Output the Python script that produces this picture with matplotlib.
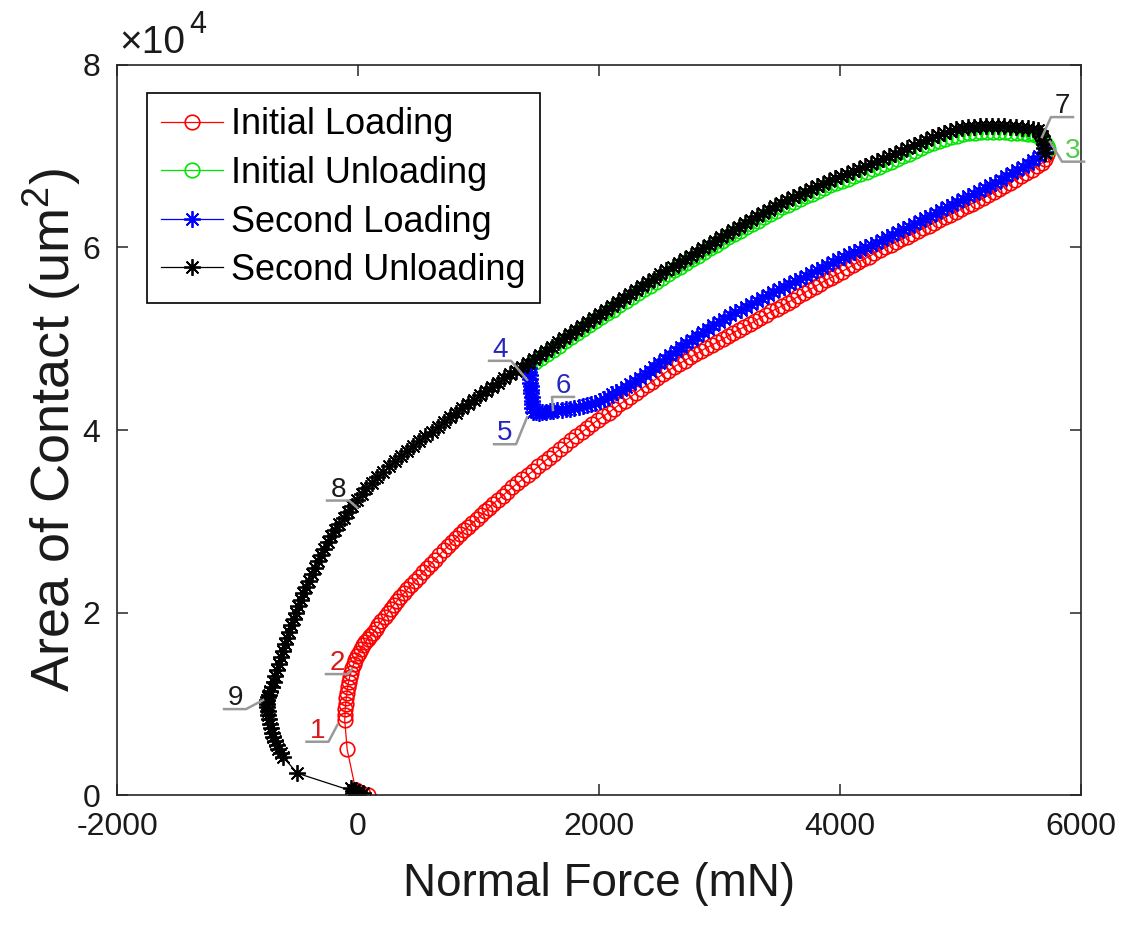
import matplotlib
matplotlib.use('Agg')
import matplotlib.pyplot as plt
from matplotlib.lines import Line2D
from matplotlib.transforms import IdentityTransform

plt.rcParams['font.family'] = ['Liberation Sans', 'DejaVu Sans']
plt.rcParams['mathtext.default'] = 'regular'

# ---------------- data (Normal Force mN, Area um^2) ----------------
init_loading = [
    (80, 0), (40, 100), (10, 300), (-20, 600), (-90, 5000),
    (-110, 8200), (-108, 8800), (-106, 9400), (-102, 10000), (-98, 10600), (-92, 11200),
    (-86, 11800), (-78, 12350), (-70, 12900), (-59, 13400), (-48, 13900), (-35, 14350),
    (-22, 14800), (-7, 15200), (8, 15600), (25, 16000), (42, 16400), (61, 16750),
    (80, 17100), (102, 17450), (124, 17750), (147, 18200), (170, 18600), (195, 19050),
    (220, 19500), (246, 19950), (272, 20400), (298, 20850), (324, 21300), (352, 21700),
    (380, 22100), (410, 22550), (440, 23000), (472, 23450), (505, 23900), (539, 24400),
    (573, 24900), (606, 25350), (640, 25800), (675, 26300), (710, 26800), (745, 27250),
    (780, 27700), (813, 28150), (846, 28600), (880, 29000), (915, 29400), (950, 29800),
    (985, 30200), (1020, 30650), (1055, 31100), (1088, 31500), (1120, 31900), (1160, 32350),
    (1200, 32800), (1240, 33250), (1280, 33700), (1322, 34150), (1365, 34600), (1408, 35050),
    (1452, 35500), (1496, 36000), (1540, 36500), (1585, 36950), (1630, 37400), (1675, 37900),
    (1720, 38400), (1765, 38850), (1810, 39300), (1855, 39750), (1900, 40200), (1945, 40650),
    (1990, 41100), (2035, 41500), (2080, 41900), (2125, 42350), (2170, 42800), (2215, 43200),
    (2260, 43600), (2305, 44050), (2350, 44500), (2395, 44900), (2440, 45300), (2485, 45700),
    (2530, 46100), (2575, 46500), (2620, 46900), (2665, 47250), (2710, 47600), (2755, 47950),
    (2800, 48300), (2845, 48650), (2890, 49000), (2935, 49300), (2980, 49600), (3025, 49950),
    (3070, 50300), (3115, 50650), (3160, 51000), (3205, 51300), (3250, 51600), (3295, 51950),
    (3340, 52300), (3385, 52650), (3430, 53000), (3475, 53300), (3520, 53600), (3565, 53950),
    (3610, 54300), (3655, 54650), (3700, 55000), (3745, 55350), (3790, 55700), (3835, 56050),
    (3880, 56400), (3925, 56700), (3970, 57000), (4015, 57350), (4060, 57700), (4105, 58050),
    (4150, 58400), (4195, 58700), (4240, 59000), (4285, 59350), (4330, 59700), (4375, 60000),
    (4420, 60300), (4465, 60600), (4510, 60900), (4555, 61200), (4600, 61500), (4645, 61800),
    (4690, 62100), (4735, 62400), (4780, 62700), (4825, 63000), (4870, 63300), (4915, 63600),
    (4960, 63900), (5005, 64200), (5050, 64500), (5095, 64800), (5140, 65100), (5185, 65400),
    (5230, 65700), (5275, 66050), (5320, 66400), (5365, 66750), (5410, 67100), (5455, 67450),
    (5500, 67800), (5545, 68150), (5590, 68500), (5635, 68900), (5680, 69300), (5700, 69750),
    (5720, 70200)]

init_unloading = [
    (5730, 70800), (5715, 71150), (5700, 71500), (5680, 71800), (5660, 72100), (5630, 72300),
    (5600, 72400), (5560, 72450), (5520, 72500), (5470, 72550), (5420, 72600), (5370, 72650),
    (5320, 72700), (5270, 72700), (5220, 72700), (5170, 72650), (5120, 72600), (5070, 72500),
    (5020, 72400), (4970, 72250), (4920, 72100), (4870, 71900), (4820, 71700), (4770, 71450),
    (4720, 71200), (4670, 70900), (4620, 70600), (4570, 70300), (4520, 70000), (4470, 69700),
    (4420, 69400), (4370, 69100), (4320, 68800), (4270, 68550), (4220, 68300), (4170, 68050),
    (4120, 67800), (4070, 67550), (4020, 67300), (3970, 67050), (3920, 66800), (3870, 66500),
    (3820, 66200), (3770, 65900), (3720, 65600), (3670, 65300), (3620, 65000), (3570, 64700),
    (3520, 64400), (3470, 64050), (3420, 63700), (3370, 63300), (3320, 62900), (3270, 62550),
    (3220, 62200), (3170, 61850), (3120, 61500), (3070, 61100), (3020, 60700), (2970, 60300),
    (2920, 59900), (2870, 59500), (2820, 59100), (2770, 58700), (2720, 58300), (2670, 57900),
    (2620, 57500), (2570, 57100), (2520, 56700), (2470, 56250), (2420, 55800), (2370, 55400),
    (2320, 55000), (2270, 54550), (2220, 54100), (2170, 53650), (2120, 53200), (2070, 52800),
    (2020, 52400), (1970, 51950), (1920, 51500), (1870, 51050), (1820, 50600), (1770, 50150),
    (1720, 49700), (1670, 49250), (1620, 48800), (1570, 48350), (1520, 47900), (1470, 47450),
    (1420, 47000)]

second_loading = [
    (1420, 46800), (1423, 46400), (1425, 46000), (1428, 45600), (1430, 45200), (1433, 44800),
    (1435, 44400), (1438, 44000), (1440, 43600), (1443, 43200), (1445, 42800), (1448, 42400),
    (1450, 42000), (1475, 41950), (1500, 41900), (1530, 41950), (1560, 42000), (1590, 42050),
    (1620, 42100), (1655, 42150), (1690, 42200), (1725, 42250), (1760, 42300), (1795, 42400),
    (1830, 42500), (1865, 42600), (1900, 42700), (1935, 42850), (1970, 43000), (2005, 43200),
    (2040, 43400), (2075, 43650), (2110, 43900), (2145, 44150), (2180, 44400), (2220, 44700),
    (2260, 45000), (2300, 45350), (2340, 45700), (2380, 46100), (2420, 46500), (2460, 46900),
    (2500, 47300), (2545, 47750), (2590, 48200), (2635, 48650), (2680, 49100), (2725, 49500),
    (2770, 49900), (2815, 50300), (2860, 50700), (2905, 51100), (2950, 51500), (2995, 51850),
    (3040, 52200), (3085, 52550), (3130, 52900), (3175, 53200), (3220, 53500), (3265, 53800),
    (3310, 54100), (3355, 54450), (3400, 54800), (3445, 55100), (3490, 55400), (3535, 55700),
    (3580, 56000), (3625, 56300), (3670, 56600), (3715, 56900), (3760, 57200), (3805, 57500),
    (3850, 57800), (3895, 58100), (3940, 58400), (3985, 58700), (4030, 59000), (4075, 59250),
    (4120, 59500), (4165, 59750), (4210, 60000), (4255, 60250), (4300, 60500), (4345, 60800),
    (4390, 61100), (4435, 61400), (4480, 61700), (4525, 62000), (4570, 62300), (4615, 62600),
    (4660, 62900), (4705, 63200), (4750, 63500), (4795, 63800), (4840, 64100), (4885, 64400),
    (4930, 64700), (4975, 65000), (5020, 65300), (5065, 65600), (5110, 65900), (5155, 66200),
    (5200, 66500), (5245, 66800), (5290, 67100), (5335, 67450), (5380, 67800), (5425, 68150),
    (5470, 68500), (5515, 68850), (5560, 69200), (5605, 69600), (5650, 70000), (5700, 70500)]

second_unloading = [
    (5700, 70400), (5695, 70850), (5690, 71300), (5683, 71750), (5675, 72200), (5660, 72550),
    (5640, 72900), (5600, 73000), (5560, 73100), (5510, 73150), (5460, 73200), (5410, 73250),
    (5360, 73300), (5310, 73300), (5260, 73300), (5210, 73300), (5160, 73300), (5110, 73250),
    (5060, 73200), (5010, 73100), (4960, 73000), (4910, 72800), (4860, 72600), (4810, 72350),
    (4760, 72100), (4710, 71800), (4660, 71500), (4610, 71200), (4560, 70900), (4510, 70600),
    (4460, 70300), (4410, 70000), (4360, 69700), (4310, 69450), (4260, 69200), (4210, 68900),
    (4160, 68600), (4110, 68350), (4060, 68100), (4010, 67850), (3960, 67600), (3910, 67300),
    (3860, 67000), (3810, 66700), (3760, 66400), (3710, 66100), (3660, 65800), (3610, 65500),
    (3560, 65200), (3510, 64850), (3460, 64500), (3410, 64150), (3360, 63800), (3310, 63400),
    (3260, 63000), (3210, 62650), (3160, 62300), (3110, 61900), (3060, 61500), (3010, 61100),
    (2960, 60700), (2910, 60300), (2860, 59900), (2810, 59500), (2760, 59100), (2710, 58700),
    (2660, 58300), (2610, 57900), (2560, 57500), (2510, 57050), (2460, 56600), (2410, 56200),
    (2360, 55800), (2310, 55350), (2260, 54900), (2210, 54450), (2160, 54000), (2110, 53600),
    (2060, 53200), (2010, 52750), (1960, 52300), (1910, 51850), (1860, 51400), (1810, 50950),
    (1760, 50500), (1710, 50050), (1660, 49600), (1610, 49150), (1560, 48700), (1510, 48250),
    (1460, 47800), (1410, 47350), (1360, 46900), (1310, 46500), (1260, 46100), (1210, 45650),
    (1160, 45200), (1110, 44750), (1060, 44300), (1010, 43800), (960, 43300), (910, 42850),
    (860, 42400), (810, 41900), (760, 41400), (710, 40850), (660, 40300), (610, 39800),
    (560, 39300), (510, 38750), (460, 38200), (410, 37650), (360, 37100), (310, 36550),
    (260, 36000), (210, 35400), (160, 34800), (115, 34200), (70, 33600), (30, 32950),
    (-10, 32300), (-48, 31650), (-85, 31000), (-120, 30350), (-155, 29700), (-188, 29050),
    (-220, 28400), (-250, 27700), (-280, 27000), (-308, 26300), (-335, 25600), (-360, 24900),
    (-385, 24200), (-408, 23500), (-430, 22800), (-453, 22100), (-475, 21400), (-495, 20700),
    (-515, 20000), (-535, 19300), (-555, 18600), (-573, 17900), (-590, 17200), (-608, 16500),
    (-625, 15800), (-640, 15100), (-655, 14400), (-670, 13700), (-685, 13000), (-700, 12400),
    (-715, 11800), (-728, 11400), (-740, 11000), (-748, 10700), (-755, 10400), (-756, 10000),
    (-755, 9600), (-750, 9200), (-745, 8800), (-738, 8300), (-730, 7800), (-722, 7300),
    (-714, 6800), (-702, 6350), (-690, 5900), (-675, 5450), (-660, 5000), (-641, 4600),
    (-622, 4200), (-506, 2400), (-40, 400), (-20, 200), (0, 0), (-30, 600),
    (10, 300), (0, 100), (-60, 800), (40, 200)]

series_names = ['Initial Loading', 'Initial Unloading', 'Second Loading', 'Second Unloading']

# numbered points (data tips)
point_labels = ['1', '2', '3', '4', '5', '6', '7', '8', '9']
point_x = [-170, -50, 5743, 1403, 1403, 1618, 5676, -8, -788]
point_y = [7700, 13800, 71600, 45500, 41400, 42200, 72100, 31500, 10400]

x_ticks = [-2000, 0, 2000, 4000, 6000]
y_ticks = [0, 20000, 40000, 60000, 80000]
y_tick_labels = ['0', '2', '4', '6', '8']

# ---------------- figure ----------------
W, H = 1138, 930
fig = plt.figure(figsize=(W / 100, H / 100), dpi=100)
ax = fig.add_axes([117 / W, (H - 795) / H, 964 / W, 730 / H])

RED = (1, 0, 0)
GREEN = (0, 0.9, 0)
BLUE = (0, 0, 1)
BLACK = (0, 0, 0)
ast = (8, 2, 0)
TXT = (0.1, 0.1, 0.1)

def xy(pairs):
    return [p[0] for p in pairs], [p[1] for p in pairs]

x, y = xy(init_loading)
ax.plot(x, y, color=RED, marker='o', mfc='none', ms=10.5, mew=1.2, lw=0.9,
        label=series_names[0])
x, y = xy(init_unloading)
ax.plot(x, y, color=GREEN, marker='o', mfc='none', ms=10.5, mew=1.2, lw=0.9,
        label=series_names[1])
x, y = xy(second_loading)
ax.plot(x, y, color=BLUE, marker=ast, ms=12, mew=1.3, lw=0.9, label=series_names[2])
x, y = xy(second_unloading)
ax.plot(x, y, color=BLACK, marker=ast, ms=12, mew=1.3, lw=0.9, label=series_names[3])

ax.set_xlim(-2000, 6000)
ax.set_ylim(0, 80000)
ax.set_xticks(x_ticks)
ax.set_xticklabels([str(v) for v in x_ticks])
ax.set_yticks(y_ticks)
ax.set_yticklabels(y_tick_labels)
spine_c = (0.15, 0.15, 0.15)
for s in ax.spines.values():
    s.set_color(spine_c)
    s.set_linewidth(1.2)
ax.tick_params(direction='in', top=True, right=True, length=8, width=1.1,
               color=spine_c, labelsize=23, labelcolor=TXT)
ax.tick_params(axis='x', pad=12)
ax.tick_params(axis='y', pad=12)

ax.set_xlabel('Normal Force (mN)', fontsize=33, color=TXT)
ax.set_ylabel('Area of Contact (um$^{2}$)', fontsize=39, color=TXT)
ax.xaxis.set_label_coords(0.5, -0.092)
ax.yaxis.set_label_coords(-0.035, 0.5)

# x10^4 multiplier
fig.text(119, H - 53, '\u00d710', fontsize=28, color=TXT,
         transform=IdentityTransform(), ha='left', va='baseline')
fig.text(189, H - 33, '4', fontsize=22, color=TXT,
         transform=IdentityTransform(), ha='left', va='baseline')

leg = ax.legend(loc='upper left', bbox_to_anchor=(147 / W, (H - 93) / H),
                bbox_transform=fig.transFigure, borderaxespad=0, fontsize=26,
                frameon=True, fancybox=False, framealpha=1, edgecolor='black',
                handlelength=1.7, handletextpad=0.22, borderpad=0.4,
                labelspacing=0.375, numpoints=1)
leg.get_frame().set_linewidth(1.2)

# data-tip style labels with gray leaders
label_colors = [(0.85, 0.1, 0.1), (0.85, 0.1, 0.1), (0.3, 0.8, 0.3),
                (0.15, 0.15, 0.75), (0.15, 0.15, 0.75), (0.15, 0.15, 0.75),
                (0.1, 0.1, 0.1), (0.1, 0.1, 0.1), (0.1, 0.1, 0.1)]
# text-centre offsets from the target, in pixels (image y downwards), and leader side
label_offsets = [(-20, 3, 'R'), (-15, -9, 'R'), (23, 6, 'L'),
                 (-27, -33, 'R'), (-22, 13, 'R'), (10, -27, 'L'),
                 (20, -34, 'L'), (-19, -21, 'R'), (-28, -5, 'R')]
fig.canvas.draw()
for txt, px, py, col, (dx, dy, side) in zip(point_labels, point_x, point_y,
                                            label_colors, label_offsets):
    tx, ty = ax.transData.transform((px, py))
    cx, cy = tx + dx, ty - dy
    fig.text(cx, cy - 10, txt, fontsize=20, color=col, ha='center', va='baseline',
             transform=IdentityTransform())
    uy = cy - 14
    ux0, ux1 = cx - 11, cx + 11
    if side == 'R':
        xs, ys = [ux0, ux1, tx], [uy, uy, ty]
    else:
        xs, ys = [ux1, ux0, tx], [uy, uy, ty]
    fig.add_artist(Line2D(xs, ys, transform=IdentityTransform(),
                          color=(0.6, 0.6, 0.6), lw=1.8))

fig.savefig('out.png', dpi=100)
